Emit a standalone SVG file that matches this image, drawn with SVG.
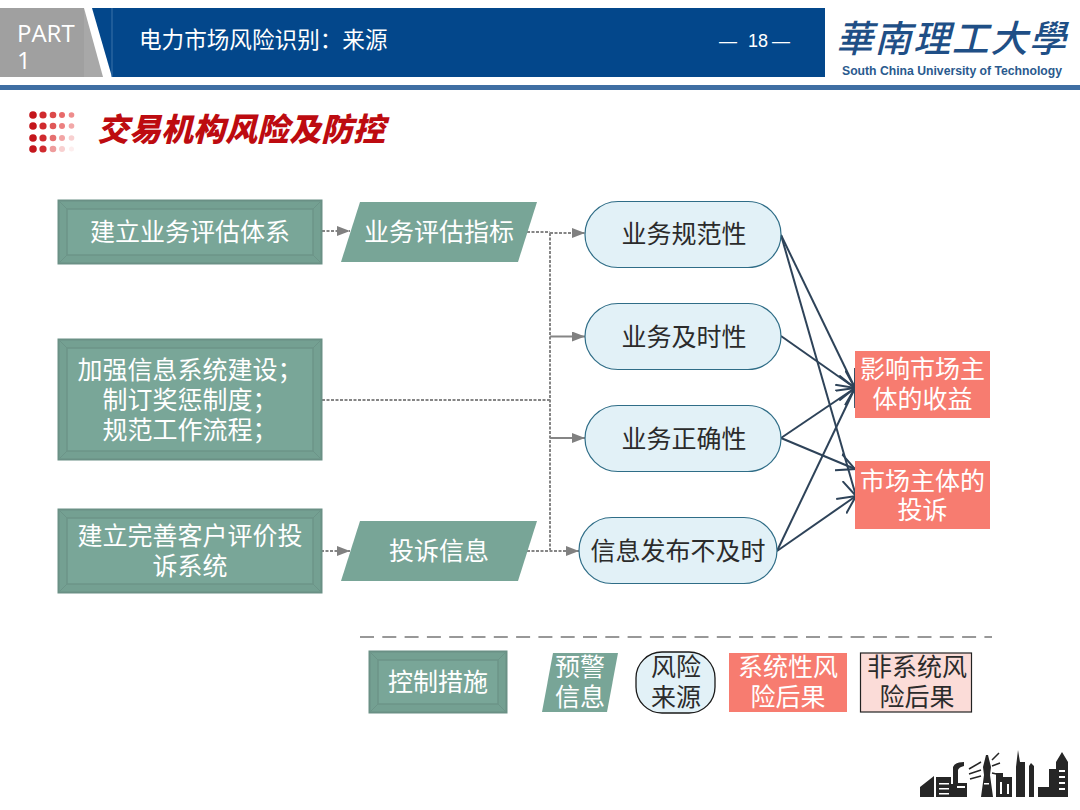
<svg xmlns="http://www.w3.org/2000/svg" width="1080" height="810" viewBox="0 0 1080 810">
<style>
text{font-family:"Noto Sans CJK SC","Noto Sans",sans-serif;text-anchor:middle}
.w{fill:#fff;font-size:25px}
.d{fill:#2b2b2b;font-size:25px}
.bev{fill:#74a092;stroke:#6a9085;stroke-width:2}
.bevi{fill:#79a698;stroke:#6c9488;stroke-width:1.5}
.bevl{stroke:#6c9488;stroke-width:1;fill:none}
.para{fill:#78a597}
.pill{fill:#e2f1f7;stroke:#2f6d87;stroke-width:1.2}
.red{fill:#f77c70}
.g{fill:none;stroke:#858585;stroke-width:2;stroke-dasharray:3 1.5}
.gs{marker-end:url(#ga)}
.n{fill:none;stroke:#2e4359;stroke-width:2;marker-end:url(#na)}
.ci{fill:#fff}
</style>
<defs>
<marker id="ga" markerUnits="userSpaceOnUse" markerWidth="14" markerHeight="12" refX="13" refY="5" orient="auto"><path d="M0 0L13 5L0 10Z" fill="#808080"/></marker>
<marker id="na" markerUnits="userSpaceOnUse" markerWidth="20" markerHeight="24" refX="18" refY="12" orient="auto"><path d="M0 3.200L18 12L0 20.800" fill="none" stroke="#2e4359" stroke-width="2"/></marker>
</defs>
<rect width="1080" height="810" fill="#fff"/>
<g id="header">
<rect x="0" y="8" width="84" height="69" fill="#a0a0a0"/>
<path d="M84 8L103 77H84Z" fill="#a8a8a8"/>
<path d="M92 8H825V77H112Z" fill="#03478b"/>
<path d="M112 8V77" stroke="#3a72a8" stroke-width="1"/>
<rect x="0" y="85" width="1080" height="5" fill="#3f6fa3"/>
<text style="text-anchor:start;font-family:'Open Sans',sans-serif;font-size:24px" fill="#fff"><tspan x="17" y="42">PART</tspan><tspan x="17" y="69">1</tspan></text>
<text x="139" y="48" style="text-anchor:start;font-size:22.6px" fill="#fff">电力市场风险识别：来源</text>
<text style="text-anchor:start;font-family:'Liberation Sans',sans-serif;font-size:18px" fill="#fff" y="47"><tspan x="719" y="47">—</tspan><tspan x="748" y="47">18</tspan><tspan x="772" y="47">—</tspan></text>
</g>
<g id="logo">
<text x="951" y="52" style="font-size:37px;font-style:italic;font-weight:500" fill="#1f4f86" textLength="230" lengthAdjust="spacing">華南理工大學</text>
<text x="952" y="75" style="font-family:'Liberation Sans',sans-serif;font-size:12px;font-weight:700" fill="#2a5a8e" textLength="220" lengthAdjust="spacingAndGlyphs">South China University of Technology</text>
</g>
<g id="section-title">
<g fill="#c4161c"><circle cx="33" cy="115" r="3.800"/><circle cx="33" cy="126" r="3.800"/><circle cx="33" cy="138" r="3.800"/><circle cx="33" cy="149" r="3.800"/></g>
<g fill="#d02a2e"><circle cx="43" cy="115" r="3.600"/><circle cx="43" cy="126" r="3.600"/><circle cx="43" cy="138" r="3.600"/><circle cx="43" cy="149" r="3.600"/></g>
<g><circle cx="53" cy="115" r="3.300" fill="#dc4a4a"/><circle cx="53" cy="126" r="3.300" fill="#e05858"/><circle cx="53" cy="138" r="3.300" fill="#e67070"/><circle cx="53" cy="149" r="3.300" fill="#ee9c9c"/></g>
<g><circle cx="62" cy="115" r="3" fill="#e86a6a"/><circle cx="62" cy="126" r="3" fill="#ec8080"/><circle cx="62" cy="138" r="3" fill="#f2a4a4"/><circle cx="62" cy="149" r="3" fill="#f8d0d0"/></g>
<g><circle cx="71.500" cy="115" r="2.800" fill="#ee8c8c"/><circle cx="71.500" cy="126" r="2.800" fill="#f2a8a8"/><circle cx="71.500" cy="138" r="2.800" fill="#f8d0d0"/><circle cx="71.500" cy="149" r="2.500" fill="#fdeeee"/></g>
<text x="97" y="141" style="text-anchor:start;font-size:32px;font-weight:900;font-style:italic" fill="#bd0b10">交易机构风险及防控</text>
</g>
<g id="connectors">
<path class="g gs" d="M322 231H350"/>
<path class="g" d="M518 232H550"/>
<path class="g gs" d="M550 233H585"/>
<path class="g" d="M550 233V550"/>
<path class="g gs" d="M550 336.500H585" style="stroke-dasharray:none"/>
<path class="g gs" d="M550 438H585" style="stroke-dasharray:none"/>
<path class="g" d="M322 400H550"/>
<path class="g gs" d="M312 551H350"/>
<path class="g gs" d="M518 551H579"/>
<path class="n" d="M781 235L855 388"/>
<path class="n" d="M781 235L856 496"/>
<path class="n" d="M781 336L855 388"/>
<path class="n" d="M781 438L855 388"/>
<path class="n" d="M781 438L855 469"/>
<path class="n" d="M777 551L855 388"/>
<path class="n" d="M777 551L856 496"/>
</g>
<g id="n-eval-system">
<rect class="bev" x="58.500" y="200.500" width="263" height="63"/>
<rect class="bevi" x="67" y="209" width="246" height="46"/>
<path class="bevl" d="M59 201L67 209M321 201L313 209M59 263L67 255M321 263L313 255"/>
<text class="w" x="190" y="240.500">建立业务评估体系</text>
</g>
<g id="n-info-system">
<rect class="bev" x="58.500" y="339.500" width="263" height="120"/>
<rect class="bevi" x="67" y="348" width="246" height="103"/>
<path class="bevl" d="M59 340L67 348M321 340L313 348M59 459L67 451M321 459L313 451"/>
<text class="w" x="190" y="379">加强信息系统建设；</text>
<text class="w" x="190" y="409">制订奖惩制度；</text>
<text class="w" x="190" y="439">规范工作流程；</text>
</g>
<g id="n-complaint-system">
<rect class="bev" x="58.500" y="509.500" width="263" height="83"/>
<rect class="bevi" x="67" y="518" width="246" height="66"/>
<path class="bevl" d="M59 510L67 518M321 510L313 518M59 592L67 584M321 592L313 584"/>
<text class="w" x="190" y="545">建立完善客户评价投</text>
<text class="w" x="190" y="575">诉系统</text>
</g>
<g id="n-eval-index">
<path class="para" d="M360 202H537L518 262H341Z"/>
<text class="w" x="439" y="240.500">业务评估指标</text>
</g>
<g id="n-complaint-info">
<path class="para" d="M360 521H537L518 581H341Z"/>
<text class="w" x="439" y="560">投诉信息</text>
</g>
<g id="n-norm">
<rect class="pill" x="585" y="201.500" width="196" height="66" rx="33"/>
<text class="d" x="684" y="242.500">业务规范性</text>
</g>
<g id="n-timely">
<rect class="pill" x="585" y="303.500" width="196" height="66" rx="33"/>
<text class="d" x="684" y="345.500">业务及时性</text>
</g>
<g id="n-correct">
<rect class="pill" x="585" y="405.500" width="196" height="66" rx="33"/>
<text class="d" x="684" y="447.500">业务正确性</text>
</g>
<g id="n-publish">
<rect class="pill" x="579" y="517.500" width="198" height="66" rx="33"/>
<text class="d" x="678" y="560">信息发布不及时</text>
</g>
<g id="n-income">
<rect class="red" x="855" y="351" width="135" height="67"/>
<text class="w" x="922.500" y="377.500">影响市场主</text>
<text class="w" x="922.500" y="407.500">体的收益</text>
</g>
<g id="n-complaint">
<rect class="red" x="855" y="461" width="135" height="68"/>
<text class="w" x="922.500" y="490">市场主体的</text>
<text class="w" x="922.500" y="519">投诉</text>
</g>
<g id="legend">
<path d="M360 637H992" fill="none" stroke="#777" stroke-width="1.500" stroke-dasharray="14 8.300"/>
<g id="l-control">
<rect class="bev" x="369.500" y="651.500" width="137" height="61"/>
<rect class="bevi" x="378" y="660" width="120" height="44"/>
<path class="bevl" d="M370 652L378 660M506 652L498 660M370 712L378 704M506 712L498 704"/>
<text class="w" x="438" y="691">控制措施</text>
</g>
<g id="l-warning">
<path class="para" d="M553 653H618L607 712H542Z"/>
<text class="w" x="580" y="676">预警</text>
<text class="w" x="580" y="706">信息</text>
</g>
<g id="l-source">
<rect x="636" y="652" width="79" height="61" rx="26" fill="#e2f1f7" stroke="#1a1a1a" stroke-width="1.300"/>
<text class="d" x="676" y="676">风险</text>
<text class="d" x="676" y="706">来源</text>
</g>
<g id="l-systemic">
<rect class="red" x="729" y="653" width="118" height="59"/>
<text class="w" x="788" y="676">系统性风</text>
<text class="w" x="788" y="706">险后果</text>
</g>
<g id="l-nonsystemic">
<rect x="860.500" y="653" width="111" height="59" fill="#fbdcd8" stroke="#222" stroke-width="1.200"/>
<text class="d" x="917" y="676">非系统风</text>
<text class="d" x="917" y="706">险后果</text>
</g>
</g>
<g id="city" fill="#262626">
<path d="M920 797V787L934 776V797ZM936 797V777H951V784H953V767Q955 762 964 762V766Q959 767 958 770V783H967V797Z"/>
<path d="M981 797L984 775L983 767L986 755H988L991 767L990 775L993 797Z"/>
<path d="M969 769L981 762M969 774L981 770M970 779L981 776M992 760L999 753M992 766L1000 763M992 773L1001 775" fill="none" stroke="#262626" stroke-width="1.500"/>
<path d="M996 797V773H1003V777H1012V797ZM1016 797V767L1018 750L1020 762H1025V797ZM1029 797V766L1031 763L1034 766V797ZM1038 797V787H1049V769H1056V762L1062 752L1068 762V797Z"/>
<g class="ci"><rect x="939" y="783" width="10" height="1.500"/><rect x="939" y="788" width="10" height="1.500"/><rect x="939" y="793" width="10" height="1.500"/><rect x="957" y="786" width="8" height="2"/><rect x="1059" y="770" width="6" height="2"/><rect x="1059" y="776" width="6" height="2"/><rect x="1059" y="782" width="6" height="2"/><rect x="1059" y="788" width="6" height="2"/><rect x="984" y="783" width="5" height="1.500"/><rect x="1000" y="782" width="2" height="12"/><rect x="1007" y="784" width="2" height="10"/></g>
</g>
</svg>
